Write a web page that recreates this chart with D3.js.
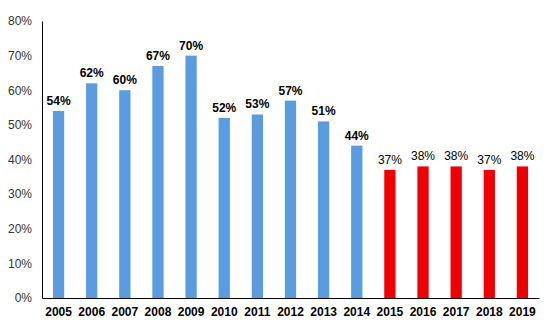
<!DOCTYPE html>
<html>
<head>
<meta charset="utf-8">
<script src="https://cdn.jsdelivr.net/npm/d3@7"></script>
<style>
  html, body { margin: 0; padding: 0; background: #fff; }
  svg { display: block; font-family: "Liberation Sans", Arial, sans-serif; }
</style>
</head>
<body>
<svg id="chart" width="548" height="326"></svg>
<script>
// Share by year, actual (blue) through 2014, projected (red) from 2015
const years = ["2005","2006","2007","2008","2009","2010","2011","2012","2013","2014","2015","2016","2017","2018","2019"];
const values = [54, 62, 60, 67, 70, 52, 53, 57, 51, 44, 37, 38, 38, 37, 38];
const projected = [false,false,false,false,false,false,false,false,false,false,true,true,true,true,true];
const yTicks = [0, 10, 20, 30, 40, 50, 60, 70, 80];

const svg = d3.select("#chart");
const margin = { top: 21, right: 9, bottom: 28, left: 42 };
const W = 548, H = 326;

const x = d3.scaleBand().domain(years).range([margin.left, W - margin.right]).paddingInner(0.66).paddingOuter(0.33);
const y = d3.scaleLinear().domain([0, 80]).range([H - margin.bottom, margin.top]);

const rows = years.map((yr, i) => ({ yr, v: values[i], p: projected[i] }));

// bars
svg.append("g").selectAll("rect").data(rows).join("rect")
  .attr("x", d => x(d.yr))
  .attr("y", d => y(d.v))
  .attr("width", x.bandwidth())
  .attr("height", d => y(0) - y(d.v))
  .attr("fill", d => d.p ? "#ee0000" : "#5b9bdf");

// value labels
svg.append("g").selectAll("text").data(rows).join("text")
  .attr("x", d => x(d.yr) + x.bandwidth() / 2)
  .attr("y", d => y(d.v) - 6)
  .attr("text-anchor", "middle")
  .attr("font-size", 12)
  .attr("font-weight", d => d.p ? "normal" : "bold")
  .attr("fill", "#000")
  .text(d => d.v + "%");

// y axis
const yAxis = d3.axisLeft(y).tickValues(yTicks).tickSize(0).tickPadding(10).tickFormat(d => d + "%");
const gy = svg.append("g").attr("transform", `translate(${margin.left},0)`).call(yAxis);
gy.select(".domain").attr("stroke", "#000").attr("stroke-width", 1);
gy.selectAll("text").attr("font-size", 12).attr("fill", "#333").attr("font-family", "Liberation Sans, Arial, sans-serif");

// x axis
const xAxis = d3.axisBottom(x).tickSize(0).tickPadding(9);
const gx = svg.append("g").attr("transform", `translate(0,${y(0)})`).call(xAxis);
gx.select(".domain").attr("stroke", "#000").attr("stroke-width", 1);
gx.selectAll("text").attr("font-size", 12).attr("font-weight", "bold").attr("fill", "#000").attr("font-family", "Liberation Sans, Arial, sans-serif");
</script>
</body>
</html>
